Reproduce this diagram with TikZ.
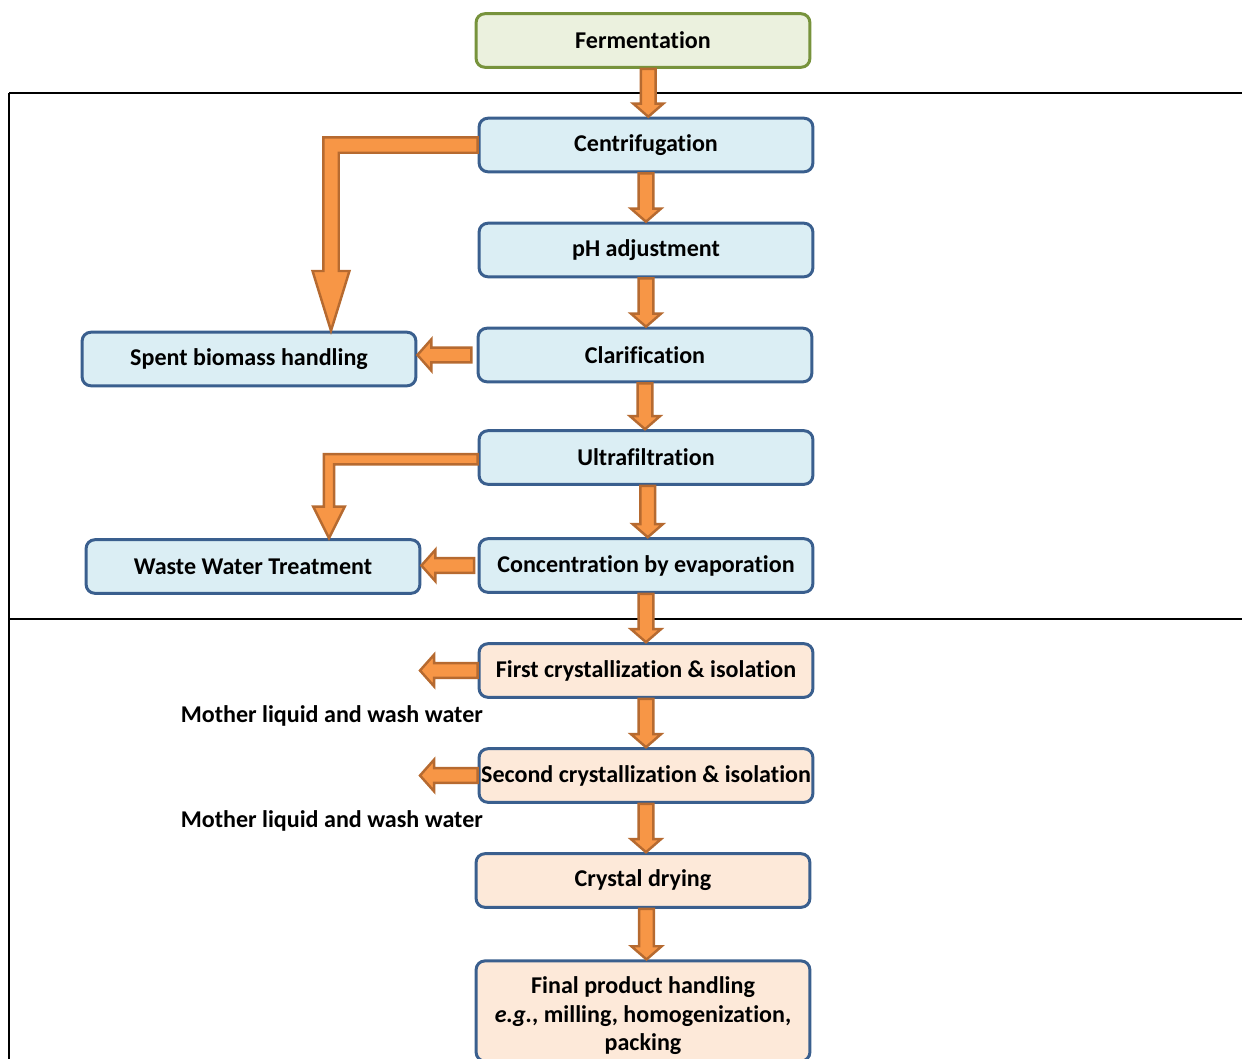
\documentclass[tikz,border=0pt]{standalone}
\usepackage{fontspec}
\setmainfont[Ligatures=NoCommon]{Carlito}
\usepackage{tikz}
\usetikzlibrary{calc}
\definecolor{flowfill}{HTML}{F79646}
\definecolor{flowedge}{HTML}{B66A30}
\definecolor{stepblue}{HTML}{DBEEF4}
\definecolor{stepline}{HTML}{3A5F8E}
\definecolor{stepgreen}{HTML}{EBF1DE}
\definecolor{greenline}{HTML}{77933C}
\definecolor{steppeach}{HTML}{FDE9D9}
\tikzset{
  stepbox/.style={draw=stepline, line width=1.7pt, rounded corners=5pt, fill=stepblue,
    minimum width=190pt, minimum height=30.5pt, inner xsep=0pt, align=center,
    font=\bfseries\fontsize{13.7}{16.4}\selectfont},
  feedbox/.style={stepbox, draw=greenline, fill=stepgreen},
  crystbox/.style={stepbox, fill=steppeach},
  flow/.style={draw=flowedge, fill=flowfill, line width=1.4pt, line join=miter},
  downflow/.style={flow, to path={let \p1=(\tikztostart), \p2=(\tikztotarget) in
    (\x1-4.2pt,\y1) -- (\x1-4.2pt,\y2+7.5pt) -- (\x1-8.6pt,\y2+7.5pt) -- (\x1,\y2)
    -- (\x1+8.6pt,\y2+7.5pt) -- (\x1+4.2pt,\y2+7.5pt) -- (\x1+4.2pt,\y1) -- cycle}},
  leftflow/.style={flow, to path={let \p1=(\tikztostart), \p2=(\tikztotarget) in
    (\x1,\y1-4.2pt) -- (\x2+8pt,\y1-4.2pt) -- (\x2+8pt,\y1-9pt) -- (\x2,\y1)
    -- (\x2+8pt,\y1+9pt) -- (\x2+8pt,\y1+4.2pt) -- (\x1,\y1+4.2pt) -- cycle}},
  bendflow/.style n args={3}{flow, to path={let \p1=(\tikztostart), \p2=(\tikztotarget) in
    (\x1,\y1+#1) -- (\x2-#1,\y1+#1) -- (\x2-#1,\y2+#3) -- (\x2-#2,\y2+#3) -- (\x2,\y2)
    -- (\x2+#2,\y2+#3) -- (\x2+#1,\y2+#3) -- (\x2+#1,\y1-#1) -- (\x1,\y1-#1) -- cycle}},
  wastelabel/.style={anchor=east, font=\bfseries\fontsize{13.7}{16}\selectfont}
}
\begin{document}
\begin{tikzpicture}[x=0.02cm, y=-0.02cm]
\useasboundingbox (0,0) rectangle (1242,1059);
% section rules
\draw[line width=1.1pt] (9,93) -- (1242,93);
\draw[line width=1.1pt] (9,619) -- (1242,619);
\draw[line width=1.1pt] (9,93) -- (9,1059);

\node[feedbox] (ferm) at (643,40.5) {Fermentation};
\node[stepbox] (centri) at (646,145) {Centrifugation};
\node[stepbox] (ph) at (646,250) {pH adjustment};
\node[stepbox] (clar) at (645,355) {Clarification};
\node[stepbox] (spent) at (249,359) {Spent biomass handling};
\node[stepbox] (ultra) at (646,457.5) {Ultrafiltration};
\node[stepbox] (waste) at (253,566.5) {Waste Water Treatment};
\node[stepbox] (conc) at (646,565.5) {Concentration by evaporation};
\node[crystbox] (first) at (646,670.5) {First crystallization \& isolation};
\node[crystbox] (second) at (646,775.5) {Second crystallization \& isolation};
\node[crystbox] (dry) at (643,880.5) {Crystal drying};
\node[crystbox, minimum height=57pt] (final) at (643,1011)
  {\rule{0pt}{15pt}Final product handling\\\textit{e.g.}, milling, homogenization,\\packing};

\node[wastelabel] (liquor1) at (489,716) {Mother liquid and wash water};
\node[wastelabel] (liquor2) at (489,821) {Mother liquid and wash water};
\coordinate (out1) at (420,672);
\coordinate (out2) at (420,777);

% main line
\draw[downflow] ([xshift=3pt]ferm.south) to (centri.north);
\draw[downflow] (centri.south) to (ph.north);
\draw[downflow] (ph.south) to (clar.north);
\draw[downflow] (clar.south) to (ultra.north);
\draw[downflow] ([xshift=1pt]ultra.south) to (conc.north);
\draw[downflow] (conc.south) to (first.north);
\draw[downflow] (first.south) to (second.north);
\draw[downflow] (second.south) to (dry.north);
\draw[downflow] ([xshift=2pt]dry.south) to (final.north);

% side streams
\draw[bendflow={4.4pt}{10.5pt}{34pt}] (centri.west) to (331,0 |- spent.north);
\draw[leftflow] ([xshift=-3pt]clar.west) to (spent.east);
\draw[bendflow={2.9pt}{9pt}{18pt}] ([yshift=-1pt]ultra.west) to (329,0 |- waste.north);
\draw[leftflow] ([xshift=-2pt]conc.west) to (waste.east);
\draw[leftflow] (first.west) to (out1);
\draw[leftflow] (second.west) to (out2);
\end{tikzpicture}
\end{document}
